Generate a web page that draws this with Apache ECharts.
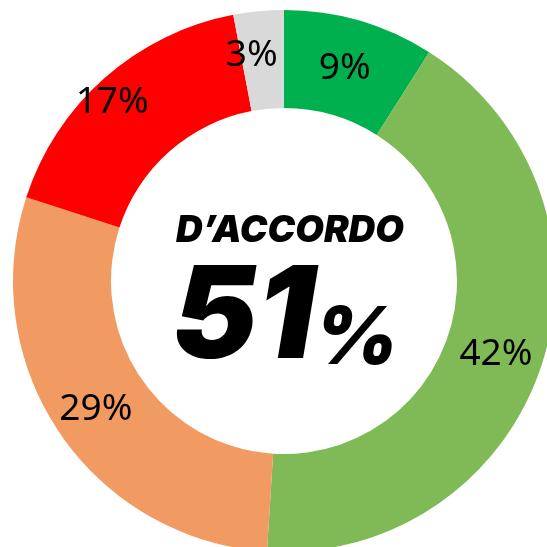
<!DOCTYPE html>
<html>
<head>
<meta charset="utf-8">
<script src="https://cdn.jsdelivr.net/npm/echarts@6/dist/echarts.min.js"></script>
<style>
  html, body { margin: 0; padding: 0; background: #fff; }
  #chart { width: 547px; height: 547px; }
</style>
</head>
<body>
<div id="chart"></div>
<script>
  // slices, clockwise from 12 o'clock
  var categories = ['Molto d\u2019accordo', 'Abbastanza d\u2019accordo', 'Poco d\u2019accordo', 'Per niente d\u2019accordo', 'Non sa'];
  var values = [9, 42, 29, 17, 3];
  var colors = ['#00B04F', '#7FBA56', '#F19B62', '#FF0000', '#D9D9D9'];
  var centerTitle = 'D\u2019ACCORDO';
  var centerValue = '51';

  // small nudges to sit labels where the original has them
  var labelOffsets = [[-2, 4], [-2, 4], [-2, 2], [-23, -10], [-11, -2]];

  var myChart = echarts.init(document.getElementById('chart'));

  var pieData = [];
  for (var i = 0; i < values.length; i++) {
    pieData.push({
      name: categories[i],
      value: values[i],
      itemStyle: { color: colors[i] },
      label: { offset: labelOffsets[i] }
    });
  }

  var option = {
    animation: false,
    title: [
      {
        text: centerTitle,
        left: 285, top: 207,
        textAlign: 'center',
        textStyle: {
          fontFamily: 'Inter', fontWeight: 900, fontStyle: 'italic',
          fontSize: 37, color: '#000'
        }
      },
      {
        text: '{a|' + centerValue + '}{b|%}',
        left: 280, top: 255,
        textAlign: 'center',
        textStyle: {
          rich: {
            a: { fontFamily: 'Inter', fontWeight: 900, fontStyle: 'italic', fontSize: 128, color: '#000', lineHeight: 120 },
            b: { fontFamily: 'Inter', fontWeight: 900, fontStyle: 'italic', fontSize: 80, color: '#000', lineHeight: 120, verticalAlign: 'bottom' }
          }
        }
      }
    ],
    series: [
      {
        type: 'pie',
        center: [284, 281],
        radius: [173, 271],
        startAngle: 90,
        clockwise: true,
        silent: true,
        label: {
          show: true,
          position: 'inside',
          formatter: '{c}%',
          fontFamily: 'Noto Sans',
          fontSize: 37,
          color: '#000'
        },
        labelLine: { show: false },
        data: pieData
      }
    ]
  };

  myChart.setOption(option);
</script>
</body>
</html>
